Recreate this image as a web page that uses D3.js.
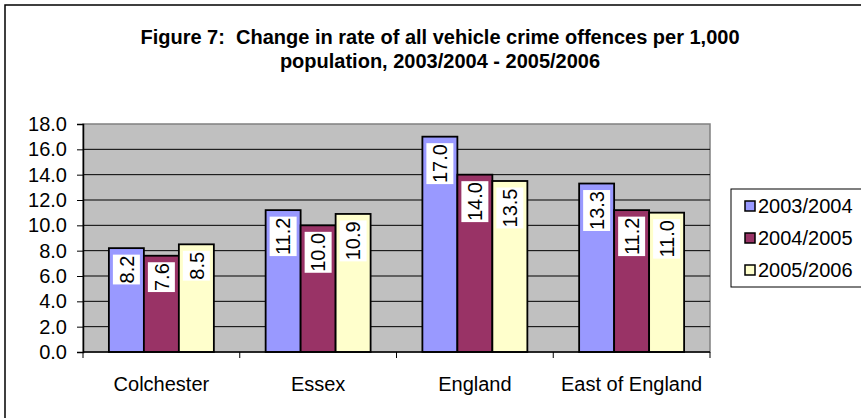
<!DOCTYPE html>
<html><head><meta charset="utf-8">
<script src="https://cdn.jsdelivr.net/npm/d3@7"></script>
<style>body{margin:0;background:#fff;}svg{display:block;font-family:"Liberation Sans",Arial,sans-serif;}</style>
</head><body>
<svg id="c" width="861" height="418"></svg>
<script>
const categories = ["Colchester", "Essex", "England", "East of England"];
const seriesNames = ["2003/2004", "2004/2005", "2005/2006"];
const values2003 = [8.2, 11.2, 17.0, 13.3];
const values2004 = [7.6, 10.0, 14.0, 11.2];
const values2005 = [8.5, 10.9, 13.5, 11.0];
const yTicks = [0, 2, 4, 6, 8, 10, 12, 14, 16, 18];
const titleLines = ["Figure 7:  Change in rate of all vehicle crime offences per 1,000", "population, 2003/2004 - 2005/2006"];
const colors = ["#9999FF", "#993366", "#FFFFCC"];

const seriesValues = [values2003, values2004, values2005];
const svg = d3.select("#c");

// outer frame
svg.append("rect").attr("x", 5).attr("y", 5).attr("width", 880).attr("height", 430)
  .attr("fill", "#fff").attr("stroke", "#000").attr("stroke-width", 1.5);

// title
svg.append("g").selectAll("text").data(titleLines).join("text")
  .attr("x", 440).attr("y", (d, i) => 44 + i * 24)
  .attr("text-anchor", "middle").attr("font-weight", "bold").attr("font-size", 20)
  .style("white-space", "pre").attr("xml:space", "preserve")
  .text(d => d);

const pLeft = 83, pRight = 710, pTop = 124, pBottom = 352;
const y = d3.scaleLinear().domain([0, 18]).range([pBottom, pTop]);
const x0 = d3.scaleBand().domain(categories).range([pLeft, pRight]).padding(0);
const x1 = d3.scaleBand().domain(seriesNames).range([0, x0.bandwidth()]).paddingInner(0).paddingOuter(0.74);

// plot area
svg.append("rect").attr("x", pLeft).attr("y", pTop).attr("width", pRight - pLeft).attr("height", pBottom - pTop)
  .attr("fill", "#C0C0C0").attr("stroke", "#808080").attr("stroke-width", 1.5);

// gridlines
svg.append("g").selectAll("line").data(yTicks.filter(t => t > 0 && t < 18)).join("line")
  .attr("x1", pLeft).attr("x2", pRight).attr("y1", d => y(d)).attr("y2", d => y(d))
  .attr("stroke", "#000").attr("stroke-width", 1);

// bars
const groups = svg.append("g").selectAll("g").data(categories).join("g")
  .attr("transform", d => `translate(${x0(d)},0)`);

groups.each(function(cat, ci) {
  const g = d3.select(this);
  seriesNames.forEach((s, si) => {
    const v = seriesValues[si][ci];
    g.append("rect").attr("x", x1(s)).attr("y", y(v)).attr("width", x1.bandwidth()).attr("height", y(0) - y(v))
      .attr("fill", colors[si]).attr("stroke", "#000").attr("stroke-width", 1.8);
  });
});

// data labels
groups.each(function(cat, ci) {
  const g = d3.select(this);
  seriesNames.forEach((s, si) => {
    const v = seriesValues[si][ci];
    const cx = x1(s) + x1.bandwidth() / 2;
    const lg = g.append("g");
    const t = lg.append("text").attr("font-size", 20).attr("text-anchor", "middle")
      .attr("dy", "0.36em").text(d3.format(".1f")(v));
    const w = t.node().getComputedTextLength() + 2;
    const boxTop = y(v) + 6.5;
    lg.attr("transform", `translate(${cx},${boxTop + w / 2}) rotate(-90)`);
    lg.insert("rect", "text").attr("x", -w / 2).attr("y", -13.5).attr("width", w).attr("height", 27).attr("fill", "#fff");
  });
});

// y axis
const yAxis = svg.append("g").attr("transform", `translate(${pLeft},0)`)
  .call(d3.axisLeft(y).tickValues(yTicks).tickFormat(d3.format(".1f")).tickSizeOuter(0).tickSize(6).tickPadding(10));
yAxis.select(".domain").attr("stroke", "#000").attr("stroke-width", 1.5);
yAxis.selectAll(".tick line").attr("stroke", "#000");
yAxis.selectAll("text").attr("font-size", 20).attr("fill", "#000").attr("font-family", "Liberation Sans, Arial, sans-serif");

// x axis
svg.append("line").attr("x1", pLeft).attr("x2", pRight).attr("y1", pBottom).attr("y2", pBottom)
  .attr("stroke", "#000").attr("stroke-width", 1.5);
const boundaries = categories.map(c => x0(c)).concat([x0(categories[categories.length - 1]) + x0.bandwidth()]);
svg.append("g").selectAll("line").data(boundaries).join("line")
  .attr("x1", d => d).attr("x2", d => d).attr("y1", pBottom).attr("y2", pBottom + 6).attr("stroke", "#000");
svg.append("g").selectAll("text").data(categories).join("text")
  .attr("x", d => x0(d) + x0.bandwidth() / 2).attr("y", 391)
  .attr("text-anchor", "middle").attr("font-size", 20).text(d => d);

// legend
const leg = svg.append("g");
leg.append("rect").attr("x", 731).attr("y", 189).attr("width", 160).attr("height", 98)
  .attr("fill", "#fff").attr("stroke", "#000").attr("stroke-width", 1);
const items = leg.selectAll("g").data(seriesNames).join("g")
  .attr("transform", (d, i) => `translate(0,${213 + i * 32})`);
items.append("rect").attr("x", 745).attr("y", -12).attr("width", 10).attr("height", 10)
  .attr("fill", (d, i) => colors[i]).attr("stroke", "#000").attr("stroke-width", 1.5);
items.append("text").attr("x", 758).attr("y", 0).attr("font-size", 20).text(d => d);
</script>
</body></html>
